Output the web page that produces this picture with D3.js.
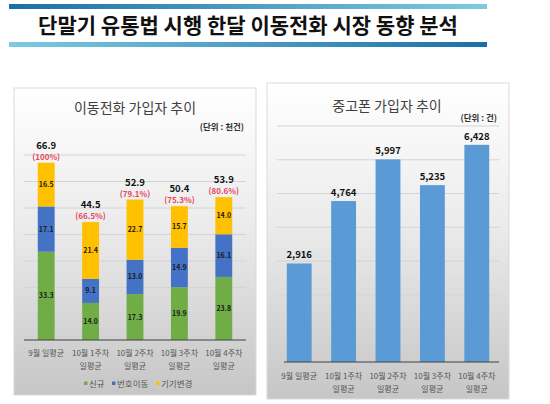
<!DOCTYPE html>
<html><head><meta charset="utf-8">
<script src="https://cdn.jsdelivr.net/npm/d3@7"></script>
<style>body{margin:0;background:#fff}svg{display:block}text{font-family:"Noto Sans CJK KR","Noto Sans",sans-serif}</style>
</head><body><svg id="c" width="550" height="404"></svg>
<script>
const mainTitle = "단말기 유통법 시행 한달 이동전화 시장 동향 분석";
const categories = [["9월 일평균"],["10월 1주차","일평균"],["10월 2주차","일평균"],["10월 3주차","일평균"],["10월 4주차","일평균"]];
const seriesNames = ["신규","번호이동","기기변경"];
const newSubs = [33.3, 14.0, 17.3, 19.9, 23.8];
const portIn = [17.1, 9.1, 13.0, 14.9, 16.1];
const deviceChange = [16.5, 21.4, 22.7, 15.7, 14.0];
const totals = [66.9, 44.5, 52.9, 50.4, 53.9];
const pctLabels = ["(100%)","(66.5%)","(79.1%)","(75.3%)","(80.6%)"];
const usedPhone = [2916, 4764, 5997, 5235, 6428];
const usedLabels = ["2,916","4,764","5,997","5,235","6,428"];
const leftTitle = "이동전화 가입자 추이", leftUnit = "(단위 : 천건)";
const rightTitle = "중고폰 가입자 추이", rightUnit = "(단위 : 건)";
const leftTicks = [10,20,30,40,50,60,70];
const rightTicks = [1000,2000,3000,4000,5000,6000,7000];

const colors = ["#70ad47","#4472c4","#ffc000"];
const svg = d3.select("#c");
const defs = svg.append("defs");
const g1 = defs.append("linearGradient").attr("id","bar1");
g1.append("stop").attr("offset","0").attr("stop-color","#1b6fa8");
g1.append("stop").attr("offset","1").attr("stop-color","#7ccbe0");
const g2 = defs.append("linearGradient").attr("id","bar2");
g2.append("stop").attr("offset","0").attr("stop-color","#7ccbe0");
g2.append("stop").attr("offset","1").attr("stop-color","#1b6fa8");
const pg = defs.append("linearGradient").attr("id","panel").attr("x1",0).attr("x2",0).attr("y1",0).attr("y2",1);
pg.append("stop").attr("offset","0").attr("stop-color","#ffffff");
pg.append("stop").attr("offset","0.45").attr("stop-color","#ebebeb");
pg.append("stop").attr("offset","1").attr("stop-color","#c6c6c6");

svg.append("rect").attr("x",9).attr("y",4).attr("width",478).attr("height",5).attr("fill","url(#bar1)");
svg.append("rect").attr("x",9).attr("y",42).attr("width",478).attr("height",5).attr("fill","url(#bar2)");
svg.append("text").attr("x",248).attr("y",33).attr("text-anchor","middle").attr("font-size",21).attr("font-weight","bold").attr("fill","#111").text(mainTitle);

// panels
svg.append("rect").attr("x",14).attr("y",88).attr("width",242).attr("height",307).attr("fill","url(#panel)").attr("stroke","#d9d9d9");
svg.append("rect").attr("x",267).attr("y",83).attr("width",242).attr("height",316).attr("fill","url(#panel)").attr("stroke","#d9d9d9");

// LEFT chart
const x1 = d3.scaleBand().domain(d3.range(5)).range([24,246]).paddingInner(0.62).paddingOuter(0.31);
const y1 = d3.scaleLinear().domain([0,70]).range([340,154.5]);
svg.append("text").attr("x",135).attr("y",113).attr("text-anchor","middle").attr("font-size",14).attr("fill","#404040").text(leftTitle);
svg.append("text").attr("x",244).attr("y",130).attr("text-anchor","end").attr("font-size",8.5).attr("font-weight","bold").attr("fill","#333").text(leftUnit);
const ga1 = svg.append("g").attr("transform","translate(24,0)").call(d3.axisLeft(y1).tickValues(leftTicks).tickSize(-222).tickFormat(""));
ga1.select(".domain").remove();
ga1.selectAll("line").attr("stroke","#d4d4d4");
const stackData = d3.range(5).map(i=>({i, a:newSubs[i], b:portIn[i], c:deviceChange[i]}));
const stacked = d3.stack().keys(["a","b","c"])(stackData);
stacked.forEach((s,k)=>{
  const gg = svg.append("g");
  gg.selectAll("rect").data(s).join("rect")
    .attr("x",d=>x1(d.data.i)).attr("width",x1.bandwidth())
    .attr("y",d=>y1(d[1])).attr("height",d=>y1(d[0])-y1(d[1])).attr("fill",colors[k]);
  gg.selectAll("text").data(s).join("text")
    .attr("x",d=>x1(d.data.i)+x1.bandwidth()/2).attr("y",d=>(y1(d[0])+y1(d[1]))/2+2.5)
    .attr("text-anchor","middle").attr("font-size",7).attr("font-weight","bold").attr("fill","#1a1a1a")
    .text(d=>(d[1]-d[0]).toFixed(1));
});
svg.append("line").attr("x1",24).attr("x2",246).attr("y1",340).attr("y2",340).attr("stroke","#404040").attr("stroke-width",1.2);
svg.append("g").selectAll("text").data(totals).join("text")
  .attr("x",(d,i)=>x1(i)+x1.bandwidth()/2).attr("y",d=>y1(d)-14)
  .attr("text-anchor","middle").attr("font-size",9.5).attr("font-weight","bold").attr("fill","#111").text(d=>d.toFixed(1));
svg.append("g").selectAll("text").data(pctLabels).join("text")
  .attr("x",(d,i)=>x1(i)+x1.bandwidth()/2).attr("y",(d,i)=>y1(totals[i])-3)
  .attr("text-anchor","middle").attr("font-size",8).attr("font-weight","bold").attr("fill","#e8475f").text(d=>d);
categories.forEach((c,i)=>{
  c.forEach((line,j)=>{
    svg.append("text").attr("x",x1(i)+x1.bandwidth()/2).attr("y",356+j*13).attr("text-anchor","middle")
      .attr("font-size",8).attr("fill","#555").text(line);
  });
});
// legend
const legX = [84,112,156];
seriesNames.forEach((n,k)=>{
  svg.append("rect").attr("x",legX[k]).attr("y",381.5).attr("width",3.5).attr("height",3.5).attr("fill",colors[k]);
  svg.append("text").attr("x",legX[k]+5).attr("y",387).attr("font-size",8.5).attr("fill","#555").text(n);
});

// RIGHT chart
const x2 = d3.scaleBand().domain(d3.range(5)).range([277,499]).paddingInner(0.44).paddingOuter(0.22);
const y2 = d3.scaleLinear().domain([0,7000]).range([362,125.5]);
svg.append("text").attr("x",387).attr("y",111).attr("text-anchor","middle").attr("font-size",14).attr("fill","#404040").text(rightTitle);
svg.append("text").attr("x",497).attr("y",121).attr("text-anchor","end").attr("font-size",8.5).attr("font-weight","bold").attr("fill","#333").text(rightUnit);
const ga2 = svg.append("g").attr("transform","translate(277,0)").call(d3.axisLeft(y2).tickValues(rightTicks).tickSize(-222).tickFormat(""));
ga2.select(".domain").remove();
ga2.selectAll("line").attr("stroke","#d4d4d4");
svg.append("g").selectAll("rect").data(usedPhone).join("rect")
  .attr("x",(d,i)=>x2(i)).attr("width",x2.bandwidth()).attr("y",d=>y2(d)).attr("height",d=>362-y2(d)).attr("fill","#5b9bd5");
svg.append("line").attr("x1",284).attr("x2",499).attr("y1",362).attr("y2",362).attr("stroke","#404040").attr("stroke-width",1.2);
svg.append("g").selectAll("text").data(usedLabels).join("text")
  .attr("x",(d,i)=>x2(i)+x2.bandwidth()/2).attr("y",(d,i)=>y2(usedPhone[i])-5)
  .attr("text-anchor","middle").attr("font-size",9.5).attr("font-weight","bold").attr("fill","#111").text(d=>d);
categories.forEach((c,i)=>{
  c.forEach((line,j)=>{
    svg.append("text").attr("x",x2(i)+x2.bandwidth()/2).attr("y",379+j*13).attr("text-anchor","middle")
      .attr("font-size",8).attr("fill","#555").text(line);
  });
});
</script></body></html>
